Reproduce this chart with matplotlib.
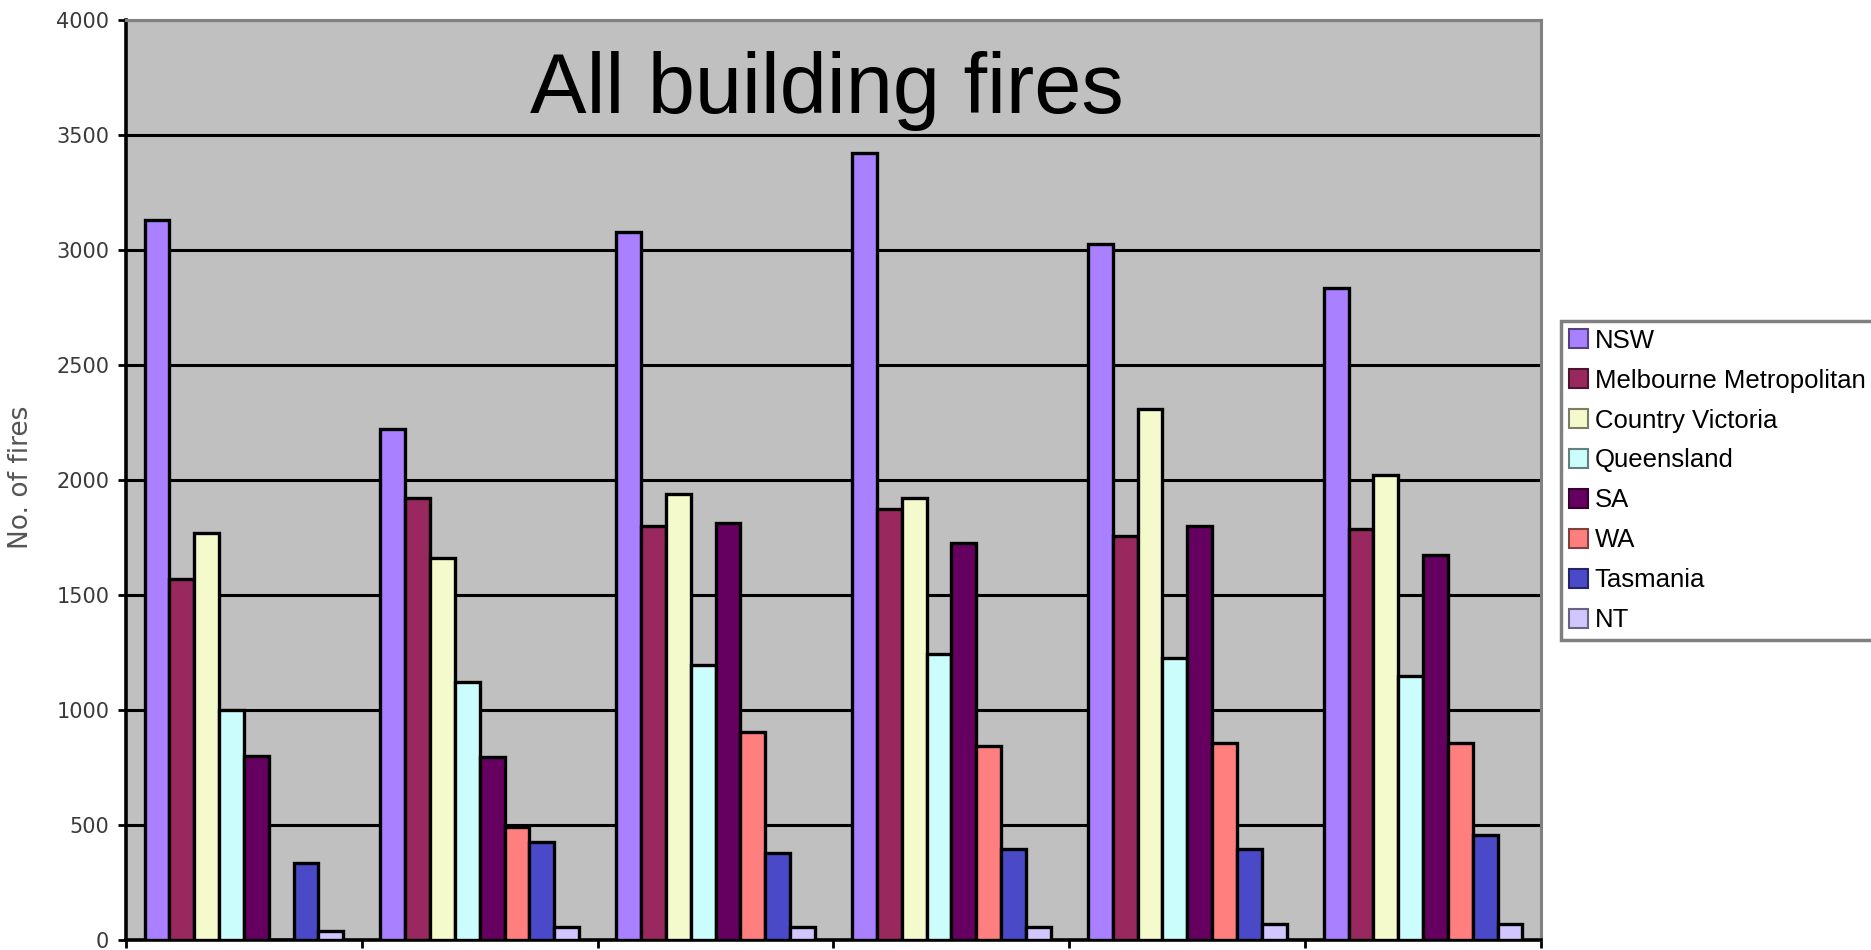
import numpy as np
import matplotlib.pyplot as plt
from matplotlib.patches import Patch
from matplotlib.colors import to_rgb

plt.rcParams['font.family'] = ['Liberation Sans', 'DejaVu Sans']

# building fires per region, six reporting periods
regions = ['NSW', 'Melbourne Metropolitan', 'Country Victoria', 'Queensland',
           'SA', 'WA', 'Tasmania', 'NT']
nsw = [3130, 2220, 3080, 3420, 3025, 2835]
melbourne = [1570, 1920, 1800, 1875, 1755, 1785]
country_vic = [1770, 1660, 1940, 1920, 2310, 2020]
queensland = [1000, 1120, 1195, 1245, 1225, 1150]
sa = [800, 795, 1815, 1725, 1800, 1675]
wa = [0, 490, 905, 845, 855, 855]
tasmania = [335, 425, 380, 395, 395, 455]
nt = [40, 55, 55, 55, 70, 70]

colors = ['#A980FF', '#99285F', '#F5FACD', '#CAFDFC',
          '#660060', '#FF7F7F', '#4A4AC9', '#D2C6FF']

series = [nsw, melbourne, country_vic, queensland, sa, wa, tasmania, nt]

fig = plt.figure(figsize=(18.71, 9.5), dpi=100)
ax = fig.add_axes([126 / 1871, 10 / 950, 1415 / 1871, 920 / 950])
ax.set_facecolor('#C0C0C0')

x = np.arange(len(nsw))
w = 1 / 9.5
for i, (vals, c) in enumerate(zip(series, colors)):
    ax.bar(x + (i - 3.5) * w, vals, w, color=c, edgecolor='black',
           linewidth=2.4, zorder=3)

ax.set_xlim(-0.5, len(nsw) - 0.5)
ax.set_ylim(0, 4000)
ax.set_yticks(np.arange(0, 4001, 500))
ax.set_xticks(np.arange(-0.5, len(nsw), 1.0))
ax.set_xticklabels([])
ax.set_axisbelow(True)
ax.yaxis.grid(True, color='black', linewidth=2.2)
ax.tick_params(axis='y', direction='out', length=6, width=2, pad=6,
               labelsize=15, labelcolor='#3a3a3a')
ax.tick_params(axis='x', direction='out', length=6, width=2)
for lbl in ax.get_yticklabels():
    lbl.set_family('DejaVu Sans')

for s in ['left', 'bottom']:
    ax.spines[s].set_linewidth(2.6)
    ax.spines[s].set_color('black')
ax.spines['top'].set_color('#808080')
ax.spines['top'].set_linewidth(2.2)
ax.spines['right'].set_color('#808080')
ax.spines['right'].set_linewidth(2.2)

ax.text(0.4955, 0.899, 'All building fires', transform=ax.transAxes,
        ha='center', va='baseline', fontsize=61, color='black')

fig.text(21 / 1871, 1 - 477 / 950, 'No. of fires', rotation=90,
         ha='center', va='center', fontsize=19, color='#555555',
         family='DejaVu Sans')

handles = [Patch(facecolor=c, edgecolor=tuple(v * 0.5 for v in to_rgb(c)),
                 linewidth=1.5) for c in colors]
leg = fig.legend(handles, regions, loc='upper left',
                 bbox_to_anchor=(1561 / 1871, 1 - 321 / 950),
                 borderaxespad=0, fontsize=18.5, handlelength=0.76,
                 handleheight=0.76, handletextpad=0.25, borderpad=0.3,
                 labelspacing=0.62, fancybox=False, framealpha=1)
leg.get_frame().set_edgecolor('#808080')
leg.get_frame().set_linewidth(2.5)

fig.savefig('out.png', dpi=100)
